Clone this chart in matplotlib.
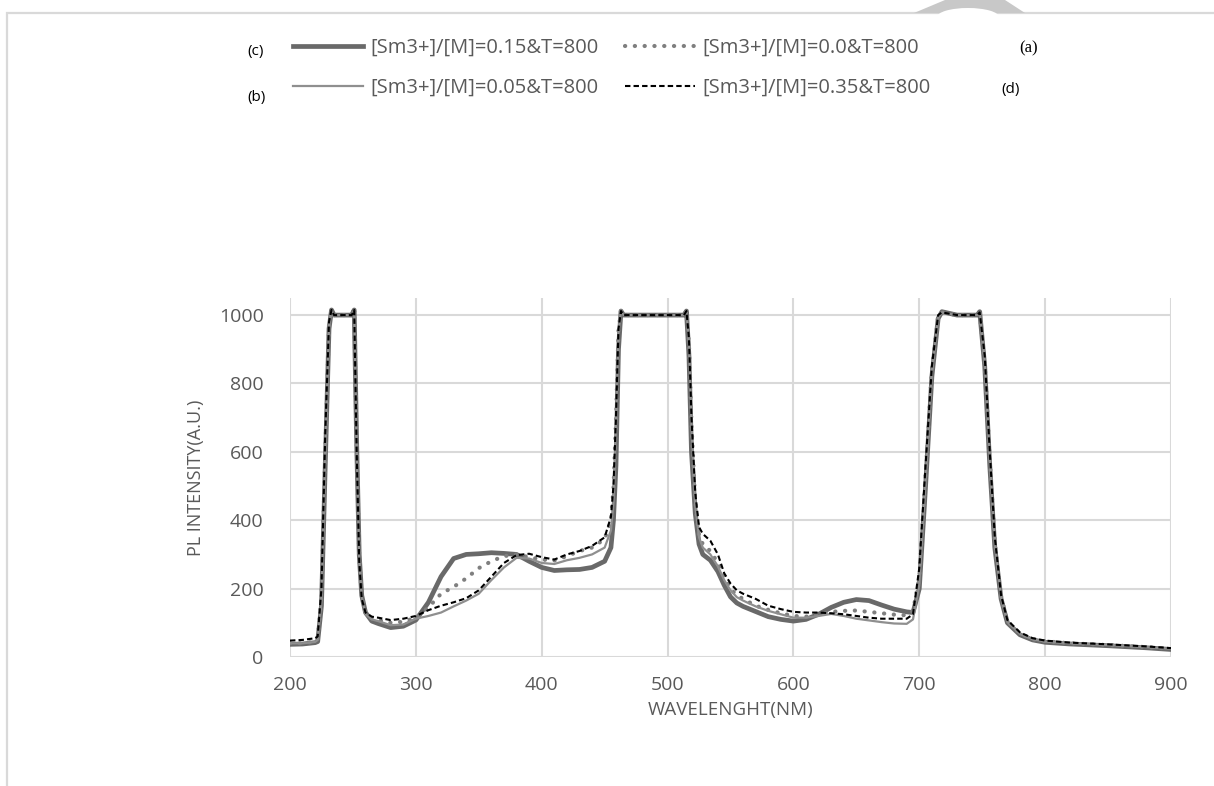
import matplotlib.pyplot as plt
from matplotlib.patches import Rectangle, Polygon, Ellipse

# Wavelength sample points (nm) shared by all series
wavelength = [200, 210, 220, 222, 225, 228, 231, 233, 235, 249, 251, 253, 255, 257, 260, 265, 270, 280, 290,
              300, 310, 320, 330, 340, 350, 360, 370, 380, 390, 400, 410, 420, 430, 440, 450,
              455, 457, 459, 461, 463, 465,
              513, 515, 517, 519, 522, 525, 528, 534, 540, 545, 550, 555, 560,
              570, 580, 590, 600, 610, 620, 630, 640, 650, 660, 670, 680, 690,
              695, 700, 705, 710, 715, 718,
              730, 746, 748, 752, 756, 760, 765, 770, 780, 790,
              800, 820, 850, 880, 900]

# (c) [Sm3+]/[M]=0.15
sm_015 = [37, 38, 42, 45, 150, 560, 960, 1015, 1000, 1000, 1015, 620, 300, 180, 130, 105, 98, 86, 90,
          108, 160, 235, 288, 300, 302, 305, 303, 300, 280, 262, 253, 255, 256, 262, 280,
          320, 400, 560, 900, 1012, 1000,
          1000, 1012, 880, 600, 420, 330, 300, 283, 250, 210, 176, 158, 148,
          133, 118, 110, 105, 110, 125, 145, 160, 168, 165, 152, 140, 132,
          130, 200, 500, 820, 990, 1010,
          1000, 1000, 1010, 850, 560, 320, 170, 100, 65, 50,
          43, 38, 33, 27, 22]

# (a) [Sm3+]/[M]=0.0
sm_000 = [40, 40, 45, 52, 170, 600, 970, 1012, 1000, 1000, 1012, 615, 295, 178, 128, 112, 108, 100, 103,
          115, 145, 185, 205, 230, 260, 280, 295, 300, 292, 285, 282, 295, 310, 320, 345,
          400, 490, 690, 955, 1012, 1000,
          1000, 1012, 915, 680, 450, 355, 330, 310, 275, 235, 200, 180, 170,
          150, 138, 128, 120, 118, 125, 132, 135, 136, 132, 128, 124, 122,
          135, 230, 530, 840, 995, 1008,
          1000, 1000, 1008, 860, 580, 335, 175, 104, 68, 52,
          46, 40, 35, 29, 24]

# (b) [Sm3+]/[M]=0.05
sm_005 = [40, 40, 44, 50, 160, 580, 965, 1012, 1000, 1000, 1012, 610, 290, 175, 125, 110, 105, 93, 95,
          112, 120, 130, 148, 165, 185, 225, 262, 290, 288, 275, 272, 283, 290, 300, 320,
          370, 450, 670, 950, 1012, 1000,
          1000, 1012, 910, 670, 440, 350, 320, 300, 265, 225, 195, 175, 165,
          148, 135, 125, 115, 115, 120, 126, 120, 112, 107, 102, 98, 97,
          110, 210, 510, 830, 992, 1008,
          1000, 1000, 1008, 860, 570, 330, 172, 102, 67, 52,
          45, 40, 35, 29, 24]

# (d) [Sm3+]/[M]=0.35
sm_035 = [48, 50, 55, 60, 200, 650, 980, 1015, 1000, 1000, 1015, 600, 280, 170, 130, 118, 115, 108, 112,
          120, 137, 150, 160, 172, 195, 235, 275, 298, 302, 292, 285, 300, 310, 325, 350,
          410, 500, 700, 960, 1012, 1000,
          1000, 1012, 930, 700, 480, 380, 360, 340, 300, 245, 215, 195, 185,
          170, 150, 140, 132, 130, 130, 128, 125, 120, 115, 112, 112, 112,
          125, 260, 560, 850, 1000, 1008,
          1000, 1000, 1008, 880, 600, 350, 180, 108, 72, 55,
          48, 42, 37, 31, 26]

labels = ["[Sm3+]/[M]=0.15&T=800", "[Sm3+]/[M]=0.0&T=800",
          "[Sm3+]/[M]=0.05&T=800", "[Sm3+]/[M]=0.35&T=800"]
x_ticks = [200, 300, 400, 500, 600, 700, 800, 900]
y_ticks = [0, 200, 400, 600, 800, 1000]

plt.rcParams['font.family'] = ['Open Sans', 'DejaVu Sans']
txt = "#595959"
W, H = 1214, 786

fig = plt.figure(figsize=(W / 100, H / 100), dpi=100)
ax = fig.add_axes([290 / W, 1 - 657 / H, (1171 - 290) / W, (657 - 298) / H])

ax.plot(wavelength, sm_000, color="#7f7f7f", lw=3.0, ls=(0, (0.05, 2.3)),
        dash_capstyle="round", label=labels[1], zorder=3)
ax.plot(wavelength, sm_005, color="#8f8f8f", lw=1.6, label=labels[2], zorder=3)
ax.plot(wavelength, sm_015, color="#696969", lw=3.4, label=labels[0], zorder=2)
ax.plot(wavelength, sm_035, color="black", lw=1.5, ls=(0, (2.6, 1.5)), label=labels[3], zorder=4)

ax.set_xlim(200, 900)
ax.set_ylim(0, 1050)
ax.set_xticks(x_ticks)
ax.set_yticks(y_ticks)
ax.grid(True, color="#d9d9d9", lw=1.5)
ax.set_axisbelow(True)
for s in ax.spines.values():
    s.set_visible(False)
ax.tick_params(length=0, labelsize=14, labelcolor=txt)
ax.tick_params(axis="y", pad=19)
ax.tick_params(axis="x", pad=14)
ax.set_xlabel("WAVELENGHT(NM)", fontsize=13.5, color=txt, labelpad=5)
ax.set_ylabel("PL INTENSITY(A.U.)", fontsize=13, color=txt, labelpad=10)

# legend, two columns
h = {l.get_label(): l for l in ax.get_lines()}
handles = [h[labels[0]], h[labels[2]], h[labels[1]], h[labels[3]]]
fig.legend(handles, [x.get_label() for x in handles], ncol=2, loc="upper left",
           bbox_to_anchor=(293 / W, 1 - 38 / H), bbox_transform=fig.transFigure,
           frameon=False, fontsize=14.5, labelcolor=txt, handlelength=3.5,
           handletextpad=0.35, columnspacing=1.3, labelspacing=1.0,
           borderpad=0, borderaxespad=0)

fig.text(256 / W, 1 - 52 / H, "(c)", fontsize=11, ha="center", va="center", color="black")
fig.text(256 / W, 1 - 97 / H, "(b)", fontsize=11, ha="center", va="center", color="black")
fig.text(1029 / W, 1 - 48 / H, "(a)", fontsize=12, ha="center", va="center",
         color="black", family="Liberation Serif")
fig.text(1011 / W, 1 - 90 / H, "(d)", fontsize=11, ha="center", va="center", color="black")

# page frame and watermark fragment
fig.add_artist(Rectangle((7 / W, -0.05), 1.1, 1 - 13 / H + 0.05, transform=fig.transFigure,
                         fill=False, edgecolor="#d9d9d9", lw=1.6))
fig.add_artist(Polygon([(914 / W, 1 - 13 / H), (945 / W, 1.0), (1005 / W, 1.0), (1025 / W, 1 - 13 / H)],
                       closed=True, transform=fig.transFigure, facecolor="#c8c8c8", edgecolor="none"))
fig.add_artist(Ellipse((968 / W, 1 - 17 / H), 62 / W, 18 / H, transform=fig.transFigure,
                       facecolor="white", edgecolor="none"))

fig.savefig("out.png", dpi=100)
